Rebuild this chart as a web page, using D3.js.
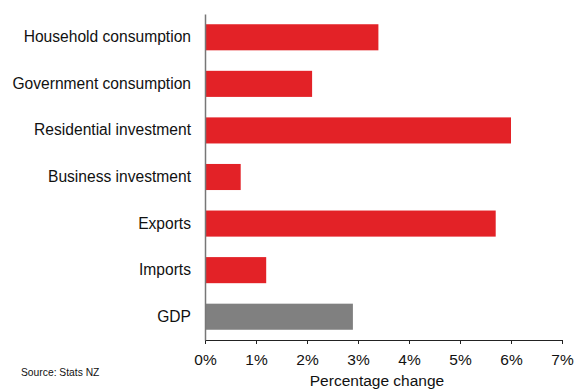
<!DOCTYPE html>
<html><head><meta charset="utf-8">
<script src="https://cdn.jsdelivr.net/npm/d3@7"></script>
<style>body{margin:0;background:#fff}svg{display:block;font-family:"Liberation Sans",Arial,sans-serif}</style>
</head><body>
<svg id="c" width="582" height="389"></svg>
<script>
const categories = ["Household consumption","Government consumption","Residential investment","Business investment","Exports","Imports","GDP"];
const values = [3.4, 2.1, 6.0, 0.7, 5.7, 1.2, 2.9];
const colors = ["#e32227","#e32227","#e32227","#e32227","#e32227","#e32227","#808080"];
const xTicks = [0,1,2,3,4,5,6,7];

const svg = d3.select("#c");
const x = d3.scaleLinear().domain([0,7]).range([205,562]);
const y = d3.scaleBand().domain(categories).range([14,340]).paddingInner(0.44).paddingOuter(0.22);

svg.selectAll("rect.bar").data(categories).enter().append("rect")
  .attr("x", x(0)).attr("y", d=>y(d))
  .attr("width", (d,i)=>x(values[i])-x(0)).attr("height", y.bandwidth())
  .attr("fill", (d,i)=>colors[i]);

const xa = svg.append("g").attr("transform","translate(0,340)")
  .call(d3.axisBottom(x).tickValues(xTicks).tickFormat(d=>d+"%").tickSize(4).tickSizeOuter(0));
xa.select(".domain").attr("stroke","#222");
xa.selectAll(".tick line").attr("stroke","#222");
xa.selectAll("text").attr("font-size","15.5px").attr("fill","#111").attr("dy","1.15em");

const ya = svg.append("g").attr("transform","translate(205,0)")
  .call(d3.axisLeft(y).tickSize(0).tickPadding(14).tickSizeOuter(0));
ya.select(".domain").attr("stroke","#777").attr("stroke-width",1.5);
ya.selectAll("text").attr("font-size","15.6px").attr("fill","#111");

svg.append("text").attr("x",377).attr("y",386).attr("text-anchor","middle")
  .attr("font-size","15.5px").attr("fill","#111").text("Percentage change");
svg.append("text").attr("x",21).attr("y",376)
  .attr("font-size","10.3px").attr("fill","#111").text("Source: Stats NZ");
</script>
</body></html>
